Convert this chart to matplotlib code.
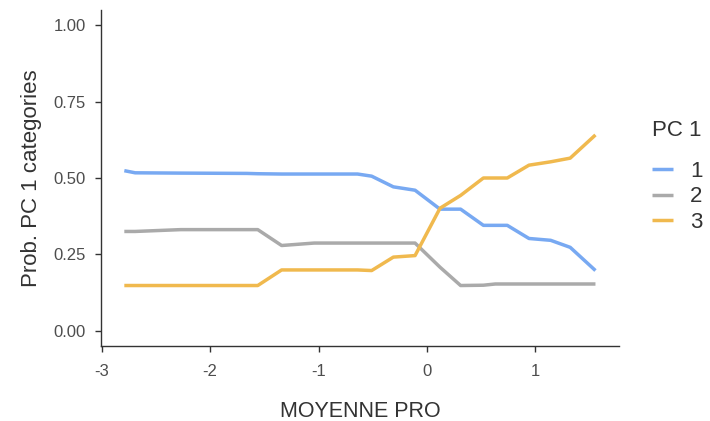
import matplotlib
matplotlib.use("Agg")
import matplotlib.pyplot as plt

# Data
moyenne_pro = [-2.79, -2.69, -2.27, -1.66, -1.56, -1.34, -1.04, -0.64, -0.51, -0.31,
               -0.11, 0.12, 0.31, 0.52, 0.63, 0.74, 0.94, 1.14, 1.32, 1.553]
prob_cat1 = [0.524, 0.517, 0.516, 0.515, 0.514, 0.513, 0.513, 0.513, 0.506, 0.471,
             0.460, 0.398, 0.398, 0.345, 0.345, 0.345, 0.302, 0.296, 0.273, 0.197]
prob_cat2 = [0.325, 0.325, 0.331, 0.331, 0.331, 0.279, 0.287, 0.287, 0.287, 0.287,
             0.287, 0.208, 0.148, 0.149, 0.153, 0.153, 0.153, 0.153, 0.153, 0.153]
prob_cat3 = [0.148, 0.148, 0.148, 0.148, 0.148, 0.199, 0.199, 0.199, 0.197, 0.241,
             0.246, 0.401, 0.443, 0.500, 0.500, 0.500, 0.542, 0.553, 0.565, 0.641]
categories = ["1", "2", "3"]
colors = ["#78A9F2", "#AAAAAA", "#F0B94E"]
x_ticks = [-3, -2, -1, 0, 1]
x_tick_labels = ["-3", "-2", "-1", "0", "1"]
y_ticks = [0.00, 0.25, 0.50, 0.75, 1.00]
y_tick_labels = ["0.00", "0.25", "0.50", "0.75", "1.00"]

plt.rcParams['font.family'] = ['Liberation Sans', 'DejaVu Sans']

fig = plt.figure(figsize=(7.10, 4.21), dpi=100)
ax = fig.add_axes([101/710, 75/421, 518/710, 336/421])

for vals, lab, col in zip([prob_cat1, prob_cat2, prob_cat3], categories, colors):
    ax.plot(moyenne_pro, vals, color=col, lw=2.5, label=lab, solid_capstyle='butt')

ax.set_xlim(-3.005, 1.77)
ax.set_ylim(-0.05, 1.05)
ax.set_xticks(x_ticks)
ax.set_xticklabels(x_tick_labels)
ax.set_yticks(y_ticks)
ax.set_yticklabels(y_tick_labels)

for s in ["top", "right"]:
    ax.spines[s].set_visible(False)
for s in ["left", "bottom"]:
    ax.spines[s].set_color("#333333")
    ax.spines[s].set_linewidth(1.0)
ax.tick_params(axis='both', colors="#333333", length=4, width=1.0,
               labelsize=12, labelcolor="#4D4D4D")
ax.tick_params(axis='x', pad=9)
ax.tick_params(axis='y', pad=7)

ax.set_xlabel("MOYENNE PRO", fontsize=15.5, color="#333333", labelpad=16)
ax.set_ylabel("Prob. PC 1 categories", fontsize=16, color="#333333", labelpad=8)

fig.text(652/710, 1 - 131/421, "PC 1", fontsize=16, color="#333333",
         ha="left", va="center")
leg = fig.legend(loc="upper left", bbox_to_anchor=(652/710, 1 - 161/421),
                 frameon=False, fontsize=16, borderpad=0, borderaxespad=0,
                 handlelength=0.95, handletextpad=0.75, labelspacing=0.2)
for t in leg.get_texts():
    t.set_color("#333333")

fig.savefig("out.png", dpi=100)
